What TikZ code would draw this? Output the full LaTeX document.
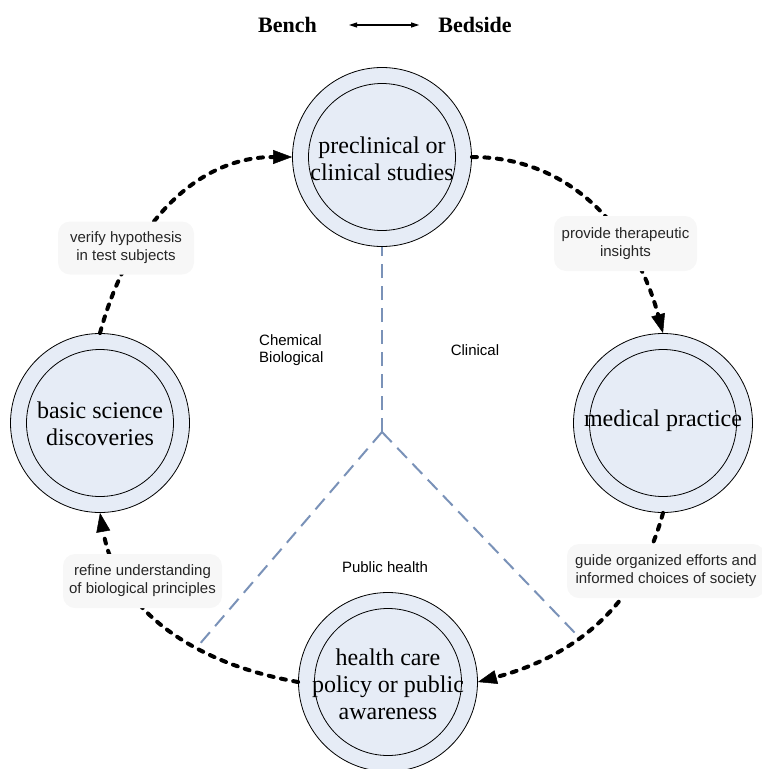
\documentclass[tikz,border=0pt]{standalone}
\usepackage{fontspec}
\setmainfont{Liberation Serif}
\setsansfont{Liberation Sans}
\usetikzlibrary{arrows.meta}

\definecolor{discfill}{RGB}{230,236,246}
\definecolor{notefill}{RGB}{247,247,247}
\definecolor{zoneline}{RGB}{122,146,184}

\begin{document}
\begin{tikzpicture}[x=1pt,y=1pt,
  disc/.style={circle, draw=black, line width=0.8pt, fill=discfill, minimum size=179pt, inner sep=0pt},
  ring/.style={circle, draw=black, line width=0.8pt, minimum size=147pt, inner sep=0pt},
  disctext/.style={align=center, font=\fontsize{24}{27}\selectfont, inner sep=0pt},
  flow/.style={line width=4pt, dash pattern=on 5pt off 7.5pt, line cap=round,
    -{Triangle[length=19pt,width=14pt,line width=0.5pt]}},
  note/.style={fill=notefill, rounded corners=12pt, align=center, inner sep=0pt,
    font=\sffamily\fontsize{15}{18}\selectfont, text=black!85},
  zone/.style={draw=zoneline, line width=2pt, dash pattern=on 14pt off 8pt},
  zonetext/.style={font=\sffamily\fontsize{15}{17.5}\selectfont, inner sep=0pt},
  headtext/.style={font=\bfseries\fontsize{22}{26}\selectfont, inner sep=2pt},
]
\useasboundingbox (0,0) rectangle (762,-769);

% heading
\node[headtext] (bench) at (287.5,-25) {Bench};
\node[headtext] (bedside) at (475,-25) {Bedside};
\draw[line width=1.1pt, {Triangle[length=8pt,width=5pt]}-{Triangle[length=8pt,width=5pt]},
  shorten <=30pt, shorten >=17pt] (bench.east) -- (bedside.west);

% the four stages
\node[disc] (top) at (382,-157) {};
\node[ring] (topring) at (top) {};
\node[disctext] (toptext) at (382,-158.5) {preclinical or\\clinical studies};

\node[disc] (left) at (100,-423) {};
\node[ring] (leftring) at (left) {};
\node[disctext] (lefttext) at (100,-423.5) {basic science\\discoveries};

\node[disc] (right) at (663,-423) {};
\node[ring] (rightring) at (right) {};
\node[disctext] (righttext) at (663,-421) {medical practice};

\node[disc] (bottom) at (388,-682) {};
\node[ring] (bottomring) at (bottom) {};
\node[disctext] (bottomtext) at (388,-684) {health care\\policy or public\\awareness};

% zone dividers
\coordinate (hub) at (382,-432);
\coordinate (zoneL) at (198,-646);
\coordinate (zoneR) at (575,-633);
\draw[zone] (hub) -- (top.south);
\draw[zone] (hub) -- (zoneL);
\draw[zone] (hub) -- (zoneR);

\node[zonetext, anchor=west, align=left] (chem) at (259,-350) {Chemical\\Biological};
\node[zonetext] (clin) at (475,-350) {Clinical};
\node[zonetext] (pub) at (385,-567) {Public health};

% cycle connectors
\draw[flow] (left.north) to[out=75,in=180] (top.west);
\draw[flow] (top.east) to[out=0,in=105] (right.north);
\draw[flow] (right.south) to[out=-105,in=15] (bottom.east);
\draw[flow] (bottom.west) to[out=170,in=-80] (left.south);

% connector labels
\node[note, minimum width=136pt, minimum height=53pt] (verify) at (126,-248) {verify hypothesis\\in test subjects};
\node[note, minimum width=143pt, minimum height=55pt] (provide) at (625.5,-243.5) {provide therapeutic\\insights};
\node[note, minimum width=198pt, minimum height=54pt] (guide) at (666,-571) {guide organized efforts and\\informed choices of society};
\node[note, minimum width=159pt, minimum height=54pt] (refine) at (142.5,-581) {refine understanding\\of biological principles};
\end{tikzpicture}
\end{document}
